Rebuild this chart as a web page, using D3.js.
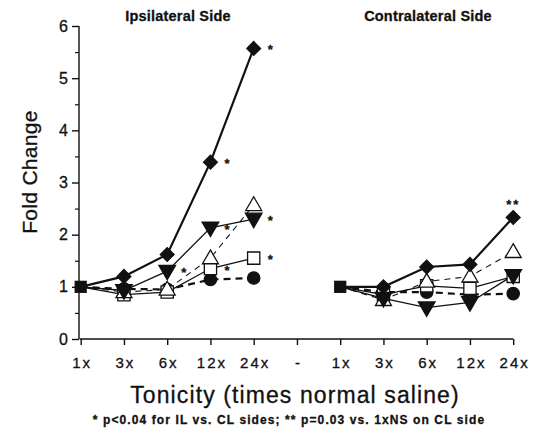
<!DOCTYPE html>
<html>
<head>
<meta charset="utf-8">
<script src="https://cdn.jsdelivr.net/npm/d3@7"></script>
<style>
  html, body { margin: 0; padding: 0; background: #fff; }
  svg text { font-family: "Liberation Sans", Arial, sans-serif; fill: #111; stroke: #111; stroke-width: 0.3px; }
</style>
</head>
<body>
<div id="chart"></div>
<script>
// tick labels along the x axis (two sides separated by "-")
const tickLabels = ["1x", "3x", "6x", "12x", "24x", "-", "1x", "3x", "6x", "12x", "24x"];
const sideTitles = ["Ipsilateral Side", "Contralateral Side"];
const yTicks = [0, 1, 2, 3, 4, 5, 6];
const yMinor = [0.5, 1.5, 2.5, 3.5, 4.5, 5.5];

// fold change, ipsilateral side (1x, 3x, 6x, 12x, 24x)
const ilDiamond = [1.0, 1.2, 1.62, 3.39, 5.57];
const ilDownTri = [1.0, 0.93, 1.3, 2.13, 2.3];
const ilOpenTri = [1.0, 0.9, 0.95, 1.55, 2.57];
const ilSquare  = [1.0, 0.85, 0.9, 1.35, 1.55];
const ilCircle  = [1.0, 0.96, 0.95, 1.14, 1.17];

// fold change, contralateral side
const clDiamond = [1.0, 1.0, 1.38, 1.43, 2.33];
const clDownTri = [1.0, 0.78, 0.6, 0.7, 1.22];
const clOpenTri = [1.0, 0.75, 1.1, 1.2, 1.67];
const clSquare  = [1.0, 0.85, 1.02, 0.97, 1.2];
const clCircle  = [1.0, 0.9, 0.9, 0.85, 0.87];

// significance marks: [series, side, index, label]
const stars = [
  ["diamond", 0, 3, "*"], ["diamond", 0, 4, "*"],
  ["downTri", 0, 2, "*"], ["downTri", 0, 3, "*"], ["downTri", 0, 4, "*"],
  ["square", 0, 3, "*"], ["square", 0, 4, "*"],
  ["diamond", 1, 4, "**"]
];

const W = 538, H = 437;
const svg = d3.select("#chart").append("svg").attr("width", W).attr("height", H);

const x = d3.scalePoint().domain(d3.range(tickLabels.length)).range([80.7, 513.2]);
const y = d3.scaleLinear().domain([0, 6]).range([339, 26]);

const series = [
  { key: "circle",  il: ilCircle,  cl: clCircle,  dash: "7,5", width: 2.2, shape: "circle",  fill: "#111" },
  { key: "square",  il: ilSquare,  cl: clSquare,  dash: null,  width: 1.2, shape: "square",  fill: "#fff" },
  { key: "openTri", il: ilOpenTri, cl: clOpenTri, dash: "6,5", width: 1.1, shape: "upTri",   fill: "#fff" },
  { key: "downTri", il: ilDownTri, cl: clDownTri, dash: null,  width: 1.3, shape: "downTri", fill: "#111" },
  { key: "diamond", il: ilDiamond, cl: clDiamond, dash: null,  width: 2.2, shape: "diamond", fill: "#111" }
];

function pts(s, side) {
  const vals = side === 0 ? s.il : s.cl;
  return vals.map((v, i) => ({ x: x(i + side * 6), y: y(v), i }));
}

// axes
const yAxis = svg.append("g").attr("transform", "translate(79,0)")
  .call(d3.axisLeft(y).tickValues(yTicks).tickSize(7).tickPadding(4).tickFormat(d3.format("d")));
svg.append("g").attr("transform", "translate(79,0)")
  .call(d3.axisLeft(y).tickValues(yMinor).tickSize(4).tickFormat(""))
  .call(g => g.select(".domain").remove())
  .selectAll("line").attr("stroke", "#111").attr("stroke-width", 1.2);
const xAxis = svg.append("g").attr("transform", "translate(0,339)")
  .call(d3.axisBottom(x).tickSize(6).tickPadding(12).tickFormat(i => tickLabels[i]));
[yAxis, xAxis].forEach(a => {
  a.selectAll("path,line").attr("stroke", "#111").attr("stroke-width", 1.4);
});
yAxis.select(".domain").attr("d", "M0,26V339");
xAxis.select(".domain").attr("d", `M${x(0) - 1},0H${x(10)}`);
yAxis.selectAll("text").style("font-size", "16px").attr("fill", "#111").attr("x", -11);
xAxis.selectAll("text").style("font-size", "15px").style("letter-spacing", "2px")
  .attr("dx", "1px").attr("fill", "#111");

// lines
const line = d3.line().x(d => d.x).y(d => d.y);
const plot = svg.append("g");
series.forEach(s => {
  [0, 1].forEach(side => {
    plot.append("path").datum(pts(s, side)).attr("d", line)
      .attr("fill", "none").attr("stroke", "#111")
      .attr("stroke-width", s.width).attr("stroke-dasharray", s.dash);
  });
});

// markers
const symbols = {
  circle:  d3.symbol().type(d3.symbolCircle).size(120),
  square:  d3.symbol().type(d3.symbolSquare).size(150),
  diamond: d3.symbol().type(d3.symbolSquare).size(95),
  upTri:   d3.symbol().type(d3.symbolTriangle).size(110),
  downTri: d3.symbol().type(d3.symbolTriangle).size(120)
};
const rot = { diamond: 45, downTri: 180 };
series.forEach(s => {
  [0, 1].forEach(side => {
    plot.selectAll(null).data(pts(s, side).filter(d => d.i > 0)).join("path")
      .attr("d", symbols[s.shape])
      .attr("transform", d => `translate(${d.x},${d.y + (s.shape === "downTri" ? -1 : s.shape === "upTri" ? 1 : 0)}) rotate(${rot[s.shape] || 0})`)
      .attr("fill", s.fill).attr("stroke", "#111").attr("stroke-width", 1.3);
  });
});
// common starting value (1x) drawn as a filled square on each side
[0, 1].forEach(side => {
  const d = pts(series[1], side)[0];
  plot.append("path").attr("d", symbols.square)
    .attr("transform", `translate(${d.x},${d.y})`).attr("fill", "#111");
});

// significance stars
stars.forEach(([key, side, i, label]) => {
  const s = series.find(t => t.key === key);
  const d = pts(s, side)[i];
  const dbl = label.length > 1;
  svg.append("text")
    .attr("x", dbl ? d.x : d.x + 14)
    .attr("y", dbl ? d.y - 8 : d.y + 6)
    .attr("text-anchor", dbl ? "middle" : "start")
    .style("font-size", "13px").style("font-weight", "bold")
    .style("letter-spacing", dbl ? "2px" : null).text(label);
});

// titles
sideTitles.forEach((t, side) => {
  svg.append("text").attr("x", side === 0 ? 178 : 428).attr("y", 21)
    .attr("text-anchor", "middle").style("font-size", "14.5px").style("font-weight", "bold")
    .style("letter-spacing", "0.2px").text(t);
});
svg.append("text").attr("transform", "translate(36.5,172) rotate(-90)")
  .attr("text-anchor", "middle").style("font-size", "21px").style("letter-spacing", "0.3px")
  .text("Fold Change");
svg.append("text").attr("x", 295).attr("y", 403)
  .attr("text-anchor", "middle").style("font-size", "23px").style("letter-spacing", "1.1px")
  .text("Tonicity (times normal saline)");
svg.append("text").attr("x", 289).attr("y", 424)
  .attr("text-anchor", "middle").style("font-size", "12px").style("font-weight", "bold")
  .style("letter-spacing", "1.1px")
  .text("* p<0.04 for IL vs. CL sides; ** p=0.03 vs. 1xNS on CL side");
</script>
</body>
</html>
